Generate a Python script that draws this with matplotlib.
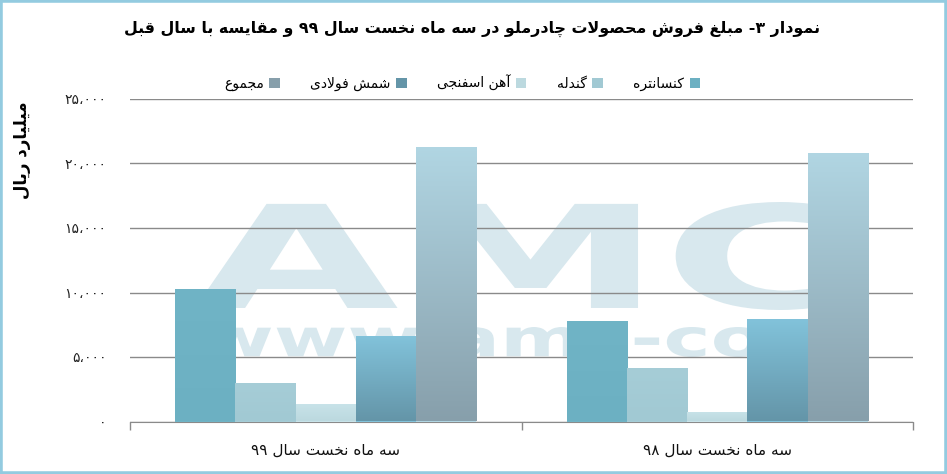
import numpy as np
import matplotlib
matplotlib.use("Agg")
import matplotlib.pyplot as plt
from matplotlib.patches import Patch, PathPatch, Rectangle
from matplotlib.textpath import TextPath
from matplotlib.font_manager import FontProperties
from matplotlib.transforms import Affine2D
from matplotlib.colors import LinearSegmentedColormap

plt.rcParams["font.family"] = ["DejaVu Sans"]

# data
categories = ["سه ماه نخست سال ۹۹", "سه ماه نخست سال ۹۸"]
series_names = ["کنسانتره", "گندله", "آهن اسفنجی", "شمش فولادی", "مجموع"]
konsantre = [10250, 7800]
gandole = [2990, 4150]
ahan_esfanji = [1360, 740]
shemsh = [6630, 7950]
majmoo = [21300, 20840]
series_values = [konsantre, gandole, ahan_esfanji, shemsh, majmoo]
y_ticks = [0, 5000, 10000, 15000, 20000, 25000]

title = "نمودار ۳- مبلغ فروش محصولات چادرملو در سه ماه نخست سال ۹۹ و مقایسه با سال قبل"
y_label = "میلیارد ریال"

# (top colour, bottom colour) per series
colors = [
    ("#70b4c6", "#6cb0c2"),
    ("#a6cdd7", "#a1c9d3"),
    ("#c8e3e9", "#bcd9df"),
    ("#82c3db", "#6495a8"),
    ("#b1d6e3", "#879fab"),
]

# --- minimal Persian shaping + RTL ordering (matplotlib 3.10 has no CTL) ---
FORMS = {
    "ا": (0xFE8D, 0xFE8E), "آ": (0xFE81, 0xFE82),
    "د": (0xFEA9, 0xFEAA), "ر": (0xFEAD, 0xFEAE),
    "ز": (0xFEAF, 0xFEB0), "و": (0xFEED, 0xFEEE),
    "ب": (0xFE8F, 0xFE90, 0xFE91, 0xFE92), "ت": (0xFE95, 0xFE96, 0xFE97, 0xFE98),
    "ج": (0xFE9D, 0xFE9E, 0xFE9F, 0xFEA0), "چ": (0xFB7A, 0xFB7B, 0xFB7C, 0xFB7D),
    "ح": (0xFEA1, 0xFEA2, 0xFEA3, 0xFEA4), "خ": (0xFEA5, 0xFEA6, 0xFEA7, 0xFEA8),
    "س": (0xFEB1, 0xFEB2, 0xFEB3, 0xFEB4), "ش": (0xFEB5, 0xFEB6, 0xFEB7, 0xFEB8),
    "ص": (0xFEB9, 0xFEBA, 0xFEBB, 0xFEBC), "ع": (0xFEC9, 0xFECA, 0xFECB, 0xFECC),
    "غ": (0xFECD, 0xFECE, 0xFECF, 0xFED0), "ف": (0xFED1, 0xFED2, 0xFED3, 0xFED4),
    "ق": (0xFED5, 0xFED6, 0xFED7, 0xFED8), "ک": (0xFB8E, 0xFB8F, 0xFB90, 0xFB91),
    "گ": (0xFB92, 0xFB93, 0xFB94, 0xFB95), "ل": (0xFEDD, 0xFEDE, 0xFEDF, 0xFEE0),
    "م": (0xFEE1, 0xFEE2, 0xFEE3, 0xFEE4), "ن": (0xFEE5, 0xFEE6, 0xFEE7, 0xFEE8),
    "ه": (0xFEE9, 0xFEEA, 0xFEEB, 0xFEEC), "ی": (0xFBFC, 0xFBFD, 0xFBFE, 0xFBFF),
}
LAM_ALEF = {"ا": (0xFEFB, 0xFEFC), "آ": (0xFEF5, 0xFEF6)}
DIGITS = "0123456789۰۱۲۳۴۵۶۷۸۹،,"


def fa(text):
    chars = list(text)
    n = len(chars)
    out = []
    i = 0
    while i < n:
        c = chars[i]
        if c not in FORMS:
            out.append(c)
            i += 1
            continue
        prev = chars[i - 1] if i > 0 else ""
        prev_join = prev in FORMS and len(FORMS[prev]) == 4
        if c == "ل" and i + 1 < n and chars[i + 1] in LAM_ALEF:
            lig = LAM_ALEF[chars[i + 1]]
            out.append(chr(lig[1] if prev_join else lig[0]))
            i += 2
            continue
        f = FORMS[c]
        next_join = len(f) == 4 and i + 1 < n and chars[i + 1] in FORMS
        if prev_join and next_join:
            g = f[3]
        elif prev_join:
            g = f[1]
        elif next_join:
            g = f[2]
        else:
            g = f[0]
        out.append(chr(g))
        i += 1
    rev = out[::-1]
    # put digit runs back in left-to-right order
    res, run = [], []
    for ch in rev:
        if ch in DIGITS:
            run.append(ch)
        else:
            res.extend(run[::-1])
            run = []
            res.append(ch)
    res.extend(run[::-1])
    return "".join(res)


def fa_num(v):
    return f"{int(v):,}".translate(str.maketrans("0123456789,", "۰۱۲۳۴۵۶۷۸۹،"))


W, H = 947, 474
fig = plt.figure(figsize=(W / 100, H / 100), dpi=100)
fig.patch.set_facecolor("white")

top_px, bot_px, left_px, right_px = 99, 421.5, 130, 913
ax = fig.add_axes([left_px / W, 1 - bot_px / H, (right_px - left_px) / W, (bot_px - top_px) / H])
ax.set_facecolor("none")


def stamp(text, box, color):
    tp = TextPath((0, 0), text, size=100, prop=FontProperties(family="DejaVu Sans", weight="bold"))
    ext = tp.get_extents()
    x0, y0, x1, y1 = box
    tr = (Affine2D().translate(-ext.x0, -ext.y0)
          .scale((x1 - x0) / ext.width / W, (y1 - y0) / ext.height / H)
          .translate(x0 / W, 1 - y1 / H) + fig.transFigure)
    fig.patches.append(PathPatch(tp, transform=tr, facecolor=color, edgecolor="none", zorder=-1))


# watermark behind the plot
stamp("AMC", (195, 202, 840, 310), "#d8e8ee")
stamp("www.amc-co", (203, 327, 762, 357), "#d8e8ee")

x = np.arange(len(categories))
width = 0.154
for i, (vals, (c_top, c_bot)) in enumerate(zip(series_values, colors)):
    bars = ax.bar(x + (i - 2) * width, vals, width, color=c_top, zorder=3, linewidth=0)
    if c_top != c_bot:
        cmap = LinearSegmentedColormap.from_list(f"g{i}", [c_bot, c_top])
        for b in bars:
            bx, by = b.get_x(), b.get_y()
            img = ax.imshow(np.linspace(0, 1, 256).reshape(-1, 1), cmap=cmap, origin="lower",
                            extent=[bx, bx + b.get_width(), by, by + b.get_height()],
                            aspect="auto", zorder=3)
            img.set_clip_path(b)

ax.set_xlim(-0.5, 1.5)
ax.set_ylim(0, 25000)
ax.set_yticks(y_ticks)
ax.set_yticklabels([fa_num(v) for v in y_ticks], fontsize=10, color="#222222")
ax.tick_params(axis="y", length=0, pad=17)
ax.set_xticks(x)
ax.set_xticklabels([fa(c) for c in categories], fontsize=11, color="#111111")
ax.set_xticks([-0.5, 0.5, 1.5], minor=True)
ax.tick_params(axis="x", which="major", length=0, pad=15.5)
ax.tick_params(axis="x", which="minor", length=6, width=1, color="#8a8a8a", direction="out")
ax.grid(axis="y", color="#8a8a8a", linewidth=1)
ax.set_axisbelow(True)
for s in ["left", "top", "right"]:
    ax.spines[s].set_visible(False)
ax.spines["bottom"].set_color("#8a8a8a")

handles = [Patch(facecolor=(c_top if c_top == c_bot else c_bot)) for c_top, c_bot in colors]
fig.legend(handles[::-1], [fa(s) for s in series_names[::-1]], loc="center",
           bbox_to_anchor=(462 / W, 1 - 83 / H), ncol=5, frameon=False, markerfirst=False,
           handlelength=0.75, handleheight=0.75, handletextpad=0.4, columnspacing=2.2,
           fontsize=10)

fig.text(472 / W, 1 - 29 / H, fa(title), ha="center", va="center", fontsize=11.4, fontweight="bold")
fig.text(22 / W, 1 - 150 / H, fa(y_label), ha="center", va="center", rotation=90,
         fontsize=12, fontweight="bold")

fig.patches.append(Rectangle((0, 0), 1, 1, transform=fig.transFigure, fill=False,
                             edgecolor="#93cbe0", linewidth=4, zorder=10))

fig.savefig("out.png", dpi=100)
